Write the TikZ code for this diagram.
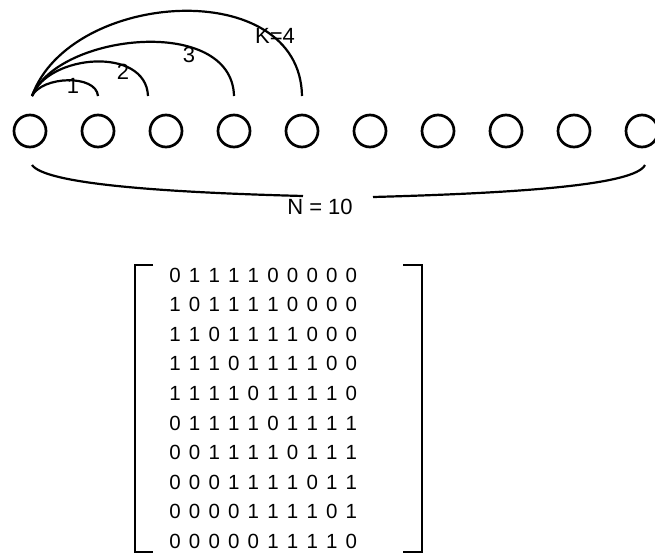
\documentclass[tikz,border=0pt]{standalone}
\usepackage{fontspec}
\setmainfont{Liberation Sans}

\begin{document}
\begin{tikzpicture}[x=1pt,y=-1pt]
\tikzset{site/.style = {shape=circle,draw,line width=2.7pt,minimum size=32pt,inner sep=0pt}}
\tikzset{link/.style = {line width=2.2pt}}
\tikzset{bracket/.style = {line width=2.8pt}}
\tikzset{lab/.style = {font=\fontsize{22}{22}\selectfont,inner sep=0pt}}
\tikzset{digit/.style = {font=\fontsize{20.5}{20.5}\selectfont,inner sep=0pt}}

\useasboundingbox (0,0) rectangle (655,554);

% sites

\foreach \i in {1,...,10}
  \node[site] (c\i) at ({30+68*(\i-1)},131) {};

% neighbour arcs

\coordinate (s) at (32,96);
\coordinate (e1) at (98,96);
\coordinate (e2) at (148,96);
\coordinate (e3) at (234,96);
\coordinate (e4) at (302,96);

\draw[link] (s) .. controls (42,76) and (96,74) .. (e1);
\draw[link] (s) .. controls (48,54) and (146,46) .. (e2);
\draw[link] (s) .. controls (58,33) and (232,15) .. (e3);
\draw[link] (s) .. controls (70,-10) and (300,-25) .. (e4);

\node[lab] (k1) at (73,86) {1};
\node[lab] (k2) at (123,72) {2};
\node[lab] (k3) at (189,55) {3};
\node[lab] (k4) at (275,36) {K=4};

% size brace

\coordinate (b1) at (32,165);
\coordinate (b2) at (645,165);
\coordinate (m1) at (303,196);
\coordinate (m2) at (373,197);
\node[lab] (n) at (320,207) {N = 10};

\draw[link] (b1) .. controls (45,183) and (150,192) .. (m1);
\draw[link] (m2) .. controls (520,193) and (635,185) .. (b2);

% adjacency matrix

\draw[bracket] (153,265) -| (135,552) -- (153,552);
\draw[bracket] (403,265) -| (422,552) -- (403,552);

\foreach \row [count=\r] in {{0,1,1,1,1,0,0,0,0,0},
                             {1,0,1,1,1,1,0,0,0,0},
                             {1,1,0,1,1,1,1,0,0,0},
                             {1,1,1,0,1,1,1,1,0,0},
                             {1,1,1,1,0,1,1,1,1,0},
                             {0,1,1,1,1,0,1,1,1,1},
                             {0,0,1,1,1,1,0,1,1,1},
                             {0,0,0,1,1,1,1,0,1,1},
                             {0,0,0,0,1,1,1,1,0,1},
                             {0,0,0,0,0,1,1,1,1,0}}
  \foreach \b [count=\c] in \row
    \node[digit] (a\r-\c) at ({175+19.6*(\c-1)},{275+29.6*(\r-1)}) {\b};
\end{tikzpicture}
\end{document}
